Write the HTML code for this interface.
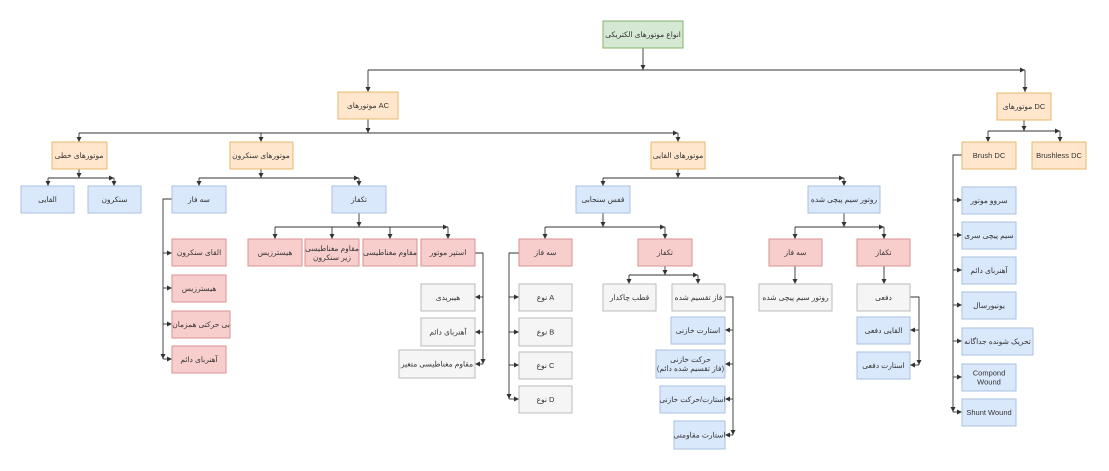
<!DOCTYPE html>
<html><head><meta charset="utf-8"><style>
html,body{margin:0;padding:0;background:#fff;}
svg{display:block;}
text{font-family:"Liberation Sans","Noto Sans CJK SC",sans-serif;font-size:7.5px;fill:#333;text-anchor:middle;dominant-baseline:central;}
.g{fill:#d5e8d4;stroke:#82b366;}
.o{fill:#ffe6cc;stroke:#e8b86a;}
.b{fill:#dae8fc;stroke:#a9c0e0;}
.r{fill:#f8cecc;stroke:#d9928f;}
.y{fill:#f5f5f5;stroke:#bbb;}
rect{stroke-width:1;}
path{fill:none;stroke:#333;stroke-width:0.9;}
</style></head><body>
<svg width="1109" height="471" viewBox="0 0 1109 471" xmlns="http://www.w3.org/2000/svg">
<defs><marker id="a" markerWidth="6" markerHeight="6" refX="5" refY="3" orient="auto" markerUnits="userSpaceOnUse"><path d="M0,0.5 L5,3 L0,5.5 Z" style="fill:#333;stroke:none"/></marker></defs>
<g marker-end="url(#a)">
<path d="M643 48V70"/><path d="M368 70H1025"/><path d="M368 70V92"/><path d="M1025 70V92"/>
<path d="M368 119V133"/><path d="M79 133H678"/><path d="M79 133V142"/><path d="M261 133V142"/><path d="M678 133V142"/>
<path d="M79 169V178"/><path d="M48 178H114"/><path d="M48 178V186"/><path d="M114 178V186"/>
<path d="M261 169V178"/><path d="M199 178H359"/><path d="M199 178V186"/><path d="M359 178V186"/>
<path d="M172 199H163V359"/><path d="M163 253H172"/><path d="M163 288H172"/><path d="M163 324H172"/><path d="M163 359H172"/>
<path d="M359 213V227"/><path d="M275 227H448"/><path d="M275 227V239"/><path d="M332 227V239"/><path d="M390 227V239"/><path d="M448 227V239"/>
<path d="M475 253H483V364"/><path d="M483 297H475"/><path d="M483 332H475"/><path d="M483 364H475"/>
<path d="M678 169V178"/><path d="M603 178H844"/><path d="M603 178V186"/><path d="M844 178V186"/>
<path d="M603 213V227"/><path d="M545 227H665"/><path d="M545 227V239"/><path d="M665 227V239"/>
<path d="M844 213V227"/><path d="M795 227H884"/><path d="M795 227V239"/><path d="M884 227V239"/>
<path d="M519 253H509V399"/><path d="M509 297H519"/><path d="M509 332H519"/><path d="M509 365H519"/><path d="M509 399H519"/>
<path d="M665 266V275"/><path d="M629 275H698"/><path d="M629 275V284"/><path d="M698 275V284"/>
<path d="M725 297H733V435"/><path d="M733 330H725"/><path d="M733 364H725"/><path d="M733 399H725"/><path d="M733 435H725"/>
<path d="M795 266V284"/><path d="M884 266V284"/>
<path d="M910 297H919V365"/><path d="M919 330H910"/><path d="M919 365H910"/>
<path d="M1024 120V131"/><path d="M988 131H1060"/><path d="M988 131V142"/><path d="M1060 131V142"/>
<path d="M962 155H953V412"/><path d="M953 200H962"/><path d="M953 235H962"/><path d="M953 270H962"/><path d="M953 305H962"/><path d="M953 341H962"/><path d="M953 377H962"/><path d="M953 412H962"/>
</g>
<!-- boxes -->
<rect class="g" x="603" y="21" width="80" height="27"/><text x="643" y="34.5">انواع موتورهای الکتریکی</text>
<rect class="o" x="338" y="92" width="60" height="27"/><text x="368" y="105.5">موتورهای AC</text>
<rect class="o" x="997" y="93" width="54" height="27"/><text x="1024" y="106.5">موتورهای DC</text>
<rect class="o" x="52" y="142" width="55" height="27"/><text x="79" y="155.5">موتورهای خطی</text>
<rect class="o" x="230" y="142" width="63" height="27"/><text x="261" y="155.5">موتورهای سنکرون</text>
<rect class="o" x="651" y="142" width="54" height="27"/><text x="678" y="155.5">موتورهای القایی</text>
<rect class="o" x="962" y="142" width="54" height="27"/><text x="989" y="155.5">Brush DC</text>
<rect class="o" x="1032" y="142" width="54" height="27"/><text x="1059" y="155.5">Brushless DC</text>
<rect class="b" x="21" y="186" width="53" height="27"/><text x="47.5" y="199.5">القایی</text>
<rect class="b" x="88" y="186" width="53" height="27"/><text x="114.5" y="199.5">سنکرون</text>
<rect class="b" x="172" y="186" width="54" height="27"/><text x="199" y="199.5">سه فاز</text>
<rect class="b" x="332" y="186" width="54" height="27"/><text x="359" y="199.5">تکفاز</text>
<rect class="b" x="576" y="186" width="54" height="27"/><text x="603" y="199.5">قفس سنجابی</text>
<rect class="b" x="808" y="186" width="72" height="27"/><text x="844" y="199.5">روتور سیم پیچی شده</text>
<rect class="r" x="172" y="239" width="54" height="27"/><text x="199" y="252.5">القای سنکرون</text>
<rect class="r" x="172" y="275" width="54" height="27"/><text x="199" y="288.5">هیسترزیس</text>
<rect class="r" x="172" y="311" width="58" height="27"/><text x="201" y="324.5">بی حرکتی همزمان</text>
<rect class="r" x="172" y="346" width="54" height="27"/><text x="199" y="359.5">آهنربای دائم</text>
<rect class="r" x="248" y="239" width="54" height="27"/><text x="275" y="252.5">هیسترزیس</text>
<rect class="r" x="305" y="239" width="54" height="27"/><text x="332" y="248.5">مقاوم مغناطیسی</text><text x="332" y="257.5">زیر سنکرون</text>
<rect class="r" x="363" y="239" width="54" height="27"/><text x="390" y="252.5">مقاوم مغناطیسی</text>
<rect class="r" x="421" y="239" width="54" height="27"/><text x="448" y="252.5">استپر موتور</text>
<rect class="y" x="421" y="284" width="54" height="27"/><text x="448" y="297.5">هیبریدی</text>
<rect class="y" x="421" y="318" width="54" height="28"/><text x="448" y="332">آهنربای دائم</text>
<rect class="y" x="399" y="350" width="76" height="28"/><text x="437" y="364">مقاوم مغناطیسی متغیر</text>
<rect class="r" x="519" y="239" width="53" height="27"/><text x="545.5" y="252.5">سه فاز</text>
<rect class="r" x="638" y="239" width="54" height="27"/><text x="665" y="252.5">تکفاز</text>
<rect class="r" x="769" y="239" width="53" height="27"/><text x="795.5" y="252.5">سه فاز</text>
<rect class="r" x="857" y="239" width="53" height="27"/><text x="883.5" y="252.5">تکفاز</text>
<rect class="y" x="519" y="284" width="53" height="27"/><text x="545.5" y="297.5">نوع A</text>
<rect class="y" x="519" y="318" width="53" height="28"/><text x="545.5" y="332">نوع B</text>
<rect class="y" x="519" y="352" width="53" height="27"/><text x="545.5" y="365.5">نوع C</text>
<rect class="y" x="519" y="386" width="53" height="27"/><text x="545.5" y="399.5">نوع D</text>
<rect class="y" x="603" y="284" width="53" height="27"/><text x="629.5" y="297.5">قطب چاکدار</text>
<rect class="y" x="672" y="284" width="53" height="27"/><text x="698.5" y="297.5">فاز تقسیم شده</text>
<rect class="b" x="671" y="317" width="54" height="27"/><text x="698" y="330.5">استارت خازنی</text>
<rect class="b" x="656" y="350" width="69" height="28"/><text x="690.5" y="359.5">حرکت خازنی</text><text x="690.5" y="368.5">(فاز تقسیم شده دائم)</text>
<rect class="b" x="660" y="386" width="65" height="27"/><text x="692.5" y="399.5">استارت/حرکت خازنی</text>
<rect class="b" x="674" y="421" width="51" height="28"/><text x="699.5" y="435">استارت مقاومتی</text>
<rect class="y" x="759" y="284" width="73" height="27"/><text x="795.5" y="297.5">روتور سیم پیچی شده</text>
<rect class="y" x="857" y="284" width="53" height="27"/><text x="883.5" y="297.5">دفعی</text>
<rect class="b" x="857" y="317" width="53" height="27"/><text x="883.5" y="330.5">القایی دفعی</text>
<rect class="b" x="857" y="352" width="53" height="27"/><text x="883.5" y="365.5">استارت دفعی</text>
<rect class="b" x="962" y="187" width="54" height="27"/><text x="989" y="200.5">سروو موتور</text>
<rect class="b" x="962" y="222" width="54" height="27"/><text x="989" y="235.5">سیم پیچی سری</text>
<rect class="b" x="962" y="257" width="54" height="27"/><text x="989" y="270.5">آهنربای دائم</text>
<rect class="b" x="962" y="292" width="54" height="27"/><text x="989" y="305.5">یونیورسال</text>
<rect class="b" x="962" y="328" width="71" height="27"/><text x="997.5" y="341.5">تحریک شونده جداگانه</text>
<rect class="b" x="962" y="364" width="54" height="27"/><text x="989" y="373">Compond</text><text x="989" y="382">Wound</text>
<rect class="b" x="962" y="399" width="54" height="27"/><text x="989" y="412.5">Shunt Wound</text>
</svg>
</body></html>
